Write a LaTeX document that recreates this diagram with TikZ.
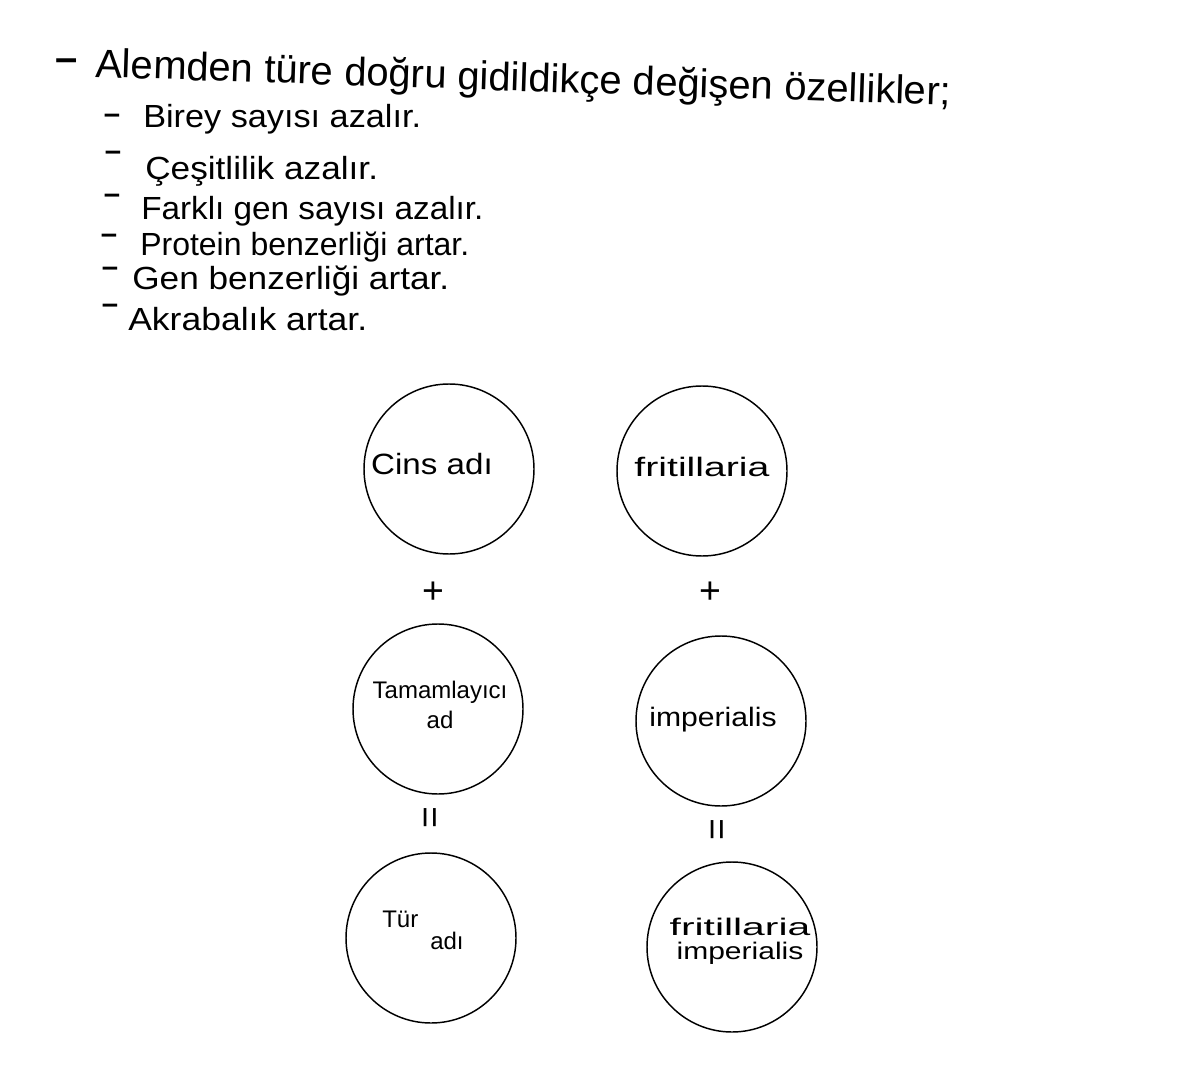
\documentclass[tikz,border=0pt]{standalone}
\usepackage{fontspec}
\usepackage{graphicx}
\setmainfont{Liberation Sans}
\begin{document}
\begin{tikzpicture}[x=0.75pt,y=-0.75pt,
  circ/.style={draw, circle, line width=1.1pt, minimum size=127.5pt, inner sep=0pt},
  lbl/.style={align=center, inner sep=0pt},
  item/.style={anchor=base west, inner sep=0pt, font=\fontsize{24}{28}\selectfont},
  dashmark/.style={inner sep=0pt, font=\fontsize{22}{24}\selectfont\bfseries},
  sym/.style={inner sep=0pt, font=\fontsize{28}{30}\selectfont}]
\useasboundingbox (0,0) rectangle (1188,1080);
% title
\node[dashmark, font=\fontsize{30}{32}\selectfont\bfseries] (d0) at (67,65) {–};
\node[anchor=base west, rotate=-1.9, inner sep=0pt, font=\fontsize{30}{34}\selectfont] (title) at (95,77) {Alemden türe doğru gidildikçe değişen özellikler;};
% list
\node[dashmark] (d1) at (112,119) {–};
\node[item, xscale=1.07] (i1) at (143,128) {Birey sayısı azalır.};
\node[dashmark] (d2) at (113,156) {–};
\node[item, xscale=1.10] (i2) at (145,180) {Çeşitlilik azalır.};
\node[dashmark] (d3) at (112,199) {–};
\node[item, xscale=1.04] (i3) at (141,220) {Farklı gen sayısı azalır.};
\node[dashmark] (d4) at (109,239) {–};
\node[item] (i4) at (140,256) {Protein benzerliği artar.};
\node[dashmark] (d5) at (110,272) {–};
\node[item, xscale=1.10] (i5) at (132,290) {Gen benzerliği artar.};
\node[dashmark] (d6) at (110,309) {–};
\node[item, xscale=1.11] (i6) at (128,331) {Akrabalık artar.};
% circles
\node[circ] (c1) at (449,469) {};
\node[circ] (c2) at (702,471) {};
\node[circ] (c3) at (438,709) {};
\node[circ] (c4) at (721,721) {};
\node[circ] (c5) at (431,938) {};
\node[circ] (c6) at (732,947) {};
% labels
\node[lbl, xscale=1.13, font=\fontsize{22}{26}\selectfont] (l1) at (432,464) {Cins adı};
\node[lbl, xscale=1.47, font=\fontsize{20}{24}\selectfont] (l2) at (702,467) {fritillaria};
\node[lbl, font=\fontsize{18}{23}\selectfont] (l3) at (440,705) {Tamamlayıcı\\ad};
\node[lbl, xscale=1.13, font=\fontsize{20}{24}\selectfont] (l4) at (713,720) {imperialis};
\node[lbl, align=left, anchor=north west, font=\fontsize{18}{16}\selectfont] (l5) at (382,911) {Tür\\\hspace*{2em}adı};
\node[lbl, font=\fontsize{18}{18}\selectfont] (l6) at (740,941) {\scalebox{1.7}[1]{fritillaria}\\\scalebox{1.25}[1]{imperialis}};
% operators
\node[sym] (p1) at (433,593) {+};
\node[sym] (p2) at (710,593) {+};
\node[sym, rotate=90] (e1) at (433,818) {=};
\node[sym, rotate=90] (e2) at (720,830) {=};
\end{tikzpicture}
\end{document}
